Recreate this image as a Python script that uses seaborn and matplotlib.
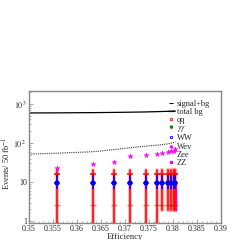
import numpy as np
import pandas as pd
import seaborn as sns
import matplotlib.pyplot as plt
from matplotlib.ticker import FixedLocator, MultipleLocator, LogLocator, NullFormatter, FixedFormatter
from matplotlib.lines import Line2D

# curves
line_x = [0.35, 0.3559, 0.3634, 0.3678, 0.3711, 0.3743, 0.3766, 0.3778, 0.3789, 0.3795, 0.3801, 0.3805]
sig_bg = [588, 592, 600, 608, 615, 625, 635, 642, 648, 652, 656, 660]
tot_bg = [52, 55, 60, 68, 76, 83, 88, 91, 95, 98, 103, 106]

# points per efficiency cut
eff = [0.3559, 0.3634, 0.3678, 0.3711, 0.3743, 0.3766, 0.3778, 0.3789, 0.3795, 0.3801, 0.3805]
zz = [23, 29, 33, 46, 49, 52, 55, 59, 62, 64, 70]
ww = [9.5, 9.5, 9.5, 9.5, 9.5, 9.5, 9.5, 9.5, 9.5, 9.5, 9.5]
ww_lo = [6.5, 6.5, 6.5, 6.5, 6.5, 6.5, 6.5, 6.5, 6.5, 6.5, 6.5]
ww_hi = [15, 15, 15, 15, 15, 15, 15, 15, 15, 15, 15]
qq = [16, 16, 16, 16, 16, 16, 16, 16, 16, 16, 16]
qq2 = [2.6, 2.6, 2.6, 2.6, 2.6, 2.6, 2.6, 2.6, 2.6, 2.6, 2.6]
qq_lo = [0.5, 0.5, 0.5, 0.5, 0.5, 0.5, 1.9, 1.9, 1.9, 1.9, 1.9]
qq_hi = [20, 20, 20, 20, 20, 20, 20, 20, 20, 20, 20]
zee_x = [0.3806]
zee = [3.0]
zee_lo = [1.8]
zee_hi = [9.0]

xticks = [0.35, 0.355, 0.36, 0.365, 0.37, 0.375, 0.38, 0.385, 0.39]
xtick_labels = ['0.35', '0.355', '0.36', '0.365', '0.37', '0.375', '0.38', '0.385', '0.39']
yticks = [1, 10, 100, 1000]
ytick_labels = ['1', '10', r'$10^{\,2}$', r'$10^{\,3}$']

sns.set_style('ticks')
plt.rcParams['font.family'] = ['Liberation Serif', 'DejaVu Serif']
plt.rcParams['mathtext.fontset'] = 'stix'

fig = plt.figure(figsize=(2.4, 2.4), dpi=100)
ax = fig.add_axes([0.121, 0.071, 0.80, 0.55])

red = '#ff0000'
blue = '#0000ff'
mag = '#ff00ff'

lines = pd.DataFrame({'x': line_x, 'sig': sig_bg, 'bg': tot_bg})
sns.lineplot(data=lines, x='x', y='sig', color='black', lw=0.9, ax=ax)
sns.lineplot(data=lines, x='x', y='bg', color='#333333', lw=0.8, ls=(0, (1, 1)), ax=ax)

# red qq error bars, wider and fainter for the tight cuts
n = len(eff)
for i in range(n):
    halo = 2.6 if i < 6 else 3.2
    ax.plot([eff[i], eff[i]], [qq_lo[i], qq_hi[i]], color=red, lw=halo, alpha=0.3, zorder=2)
    ax.plot([eff[i], eff[i]], [qq_lo[i], qq_hi[i]], color=red, lw=1.2, alpha=0.95, zorder=2)

ax.errorbar(zee_x, zee, yerr=[[zee[0] - zee_lo[0]], [zee_hi[0] - zee[0]]],
            fmt='none', ecolor=mag, elinewidth=1.0, zorder=1)

pts = pd.DataFrame({'eff': eff, 'zz': zz, 'ww': ww, 'qq': qq, 'qq2': qq2})
ax.errorbar(eff, ww, yerr=[np.array(ww) - np.array(ww_lo), np.array(ww_hi) - np.array(ww)],
            fmt='none', ecolor=blue, elinewidth=1.1, zorder=3)
sns.scatterplot(data=pts, x='eff', y='qq', marker='_', s=22, color=red, linewidth=1.1, ax=ax, zorder=4)
sns.scatterplot(data=pts, x='eff', y='qq2', marker='_', s=22, color=red, linewidth=1.0, alpha=0.5, ax=ax, zorder=4)
sns.scatterplot(data=pts, x='eff', y='ww', marker='_', s=22, color=blue, linewidth=1.1, ax=ax, zorder=5)
sns.scatterplot(data=pts, x='eff', y='ww', marker='s', s=6, color=blue, edgecolor=blue, ax=ax, zorder=5)
sns.scatterplot(data=pts, x='eff', y='zz', marker='*', s=14, color=mag, edgecolor=mag, linewidth=0.3, ax=ax, zorder=6)

ax.set_yscale('log')
ax.set_xlim(0.35, 0.39)
ax.set_ylim(0.9, 2150)

ax.xaxis.set_major_locator(FixedLocator(xticks))
ax.xaxis.set_major_formatter(FixedFormatter(xtick_labels))
ax.xaxis.set_minor_locator(MultipleLocator(0.001))
ax.yaxis.set_major_locator(FixedLocator(yticks))
ax.yaxis.set_major_formatter(FixedFormatter(ytick_labels))
ax.yaxis.set_minor_locator(LogLocator(base=10, subs=np.arange(2, 10)))
ax.yaxis.set_minor_formatter(NullFormatter())
ax.tick_params(which='both', direction='in', labelsize=5.8, pad=1.5, color='#999999')
ax.tick_params(which='major', length=3, width=0.6)
ax.tick_params(which='minor', length=1.5, width=0.5)

for s in ax.spines.values():
    s.set_color('#888888')
    s.set_linewidth(1.0)

ax.set_xlabel('Efficiency', fontsize=6.2, labelpad=0)
ax.set_ylabel(r'Events/ 50 fb$^{-1}$', fontsize=6, labelpad=1)
ax.yaxis.set_label_coords(-0.085, 0.45)

handles = [
    Line2D([], [], color='black', marker='_', ls='none', markersize=3, markeredgewidth=0.8),
    Line2D([], [], color='black', lw=0.9),
    Line2D([], [], color=red, marker='o', ls='none', markersize=1.8, mfc='none', markeredgewidth=0.6),
    Line2D([], [], color='green', marker='v', ls='none', markersize=1.8),
    Line2D([], [], color=blue, marker='s', ls='none', markersize=1.8, mfc='none', markeredgewidth=0.6),
    Line2D([], [], color=mag, marker='^', ls='none', markersize=1.8),
    Line2D([], [], color='white', marker='.', ls='none', markersize=1),
    Line2D([], [], color=mag, marker='*', ls='none', markersize=2.2),
]
labels = ['signal+bg', 'total bg', 'qq', r'$\gamma\gamma$', 'WW', 'Wev', 'Zee', 'ZZ']
ax.legend(handles, labels, loc='upper left', bbox_to_anchor=(0.70, 0.965), frameon=False,
          fontsize=6, handlelength=0.8, handletextpad=0.3, labelspacing=0.02, borderpad=0)

fig.savefig('out.png', dpi=100)
